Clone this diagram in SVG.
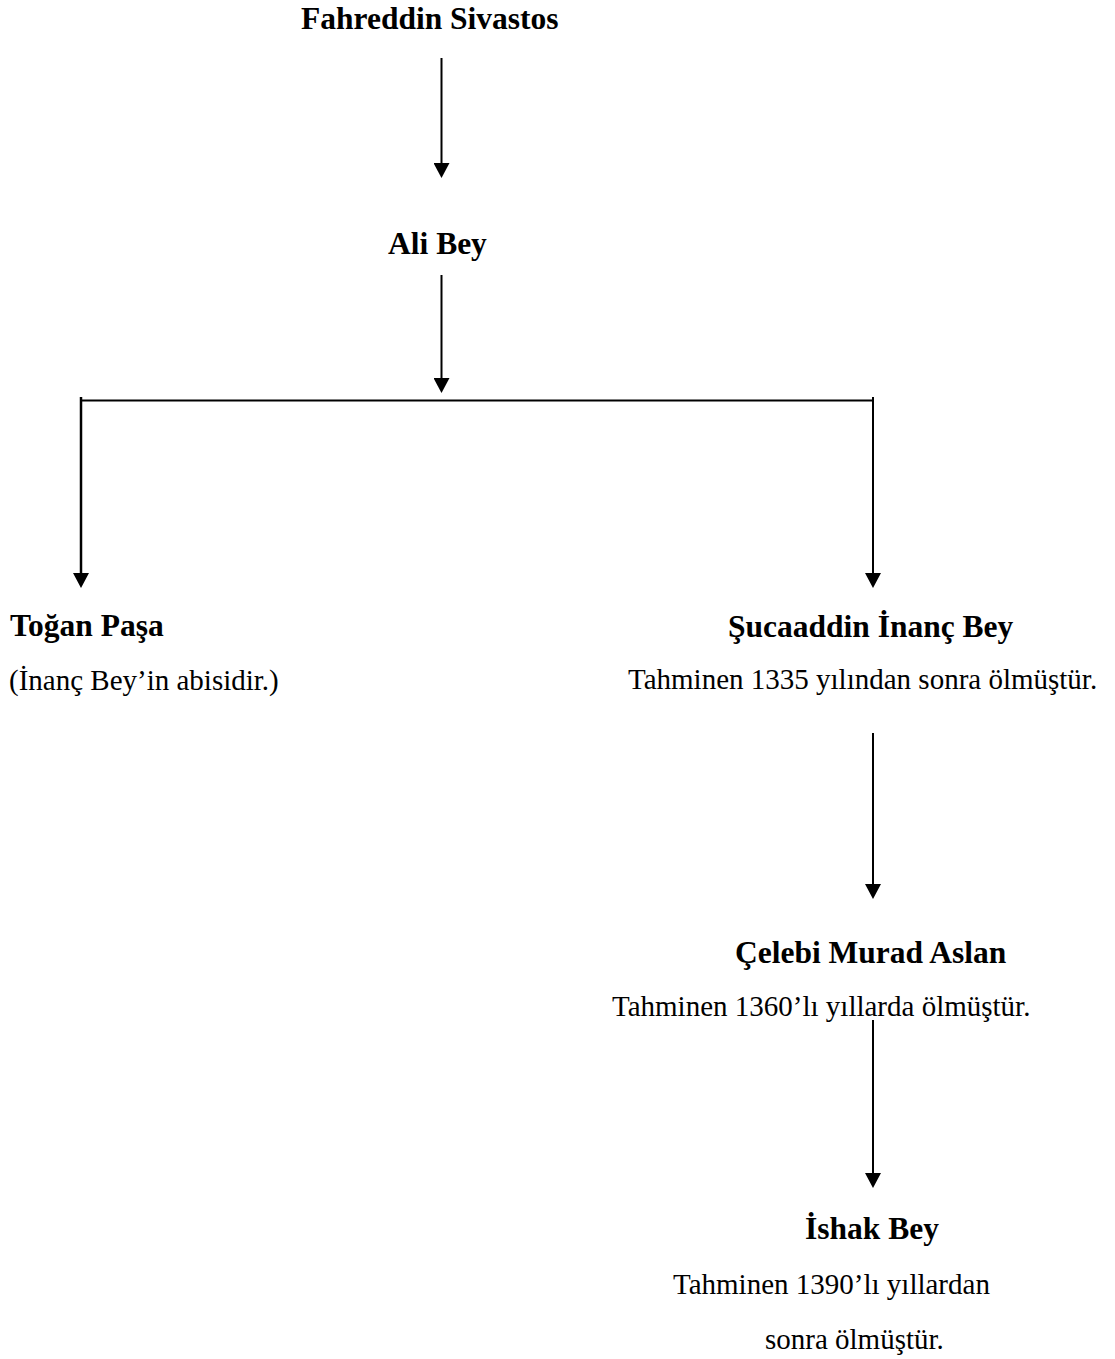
<svg xmlns="http://www.w3.org/2000/svg" width="1115" height="1359" viewBox="0 0 1115 1359">
<defs>
<style>
.b{font-family:"Liberation Serif","Times New Roman",serif;font-weight:bold;font-size:31.5px;fill:#000}
.r{font-family:"Liberation Serif","Times New Roman",serif;font-size:29px;fill:#000}
.c{stroke:#000;stroke-width:2;fill:none}
.a{marker-end:url(#ah)}
</style>
<marker id="ah" markerUnits="userSpaceOnUse" markerWidth="16" markerHeight="16" refX="5" refY="8" orient="auto">
<path d="M0,0 L15,8 L0,16 z" fill="#000"/>
</marker>
</defs>
<rect width="1115" height="1359" fill="#fff"/>
<g id="connectors">
<line class="c a" x1="441.5" y1="58" x2="441.5" y2="168"/>
<line class="c a" x1="441.5" y1="275" x2="441.5" y2="383"/>
<line class="c" x1="80" y1="400.5" x2="874" y2="400.5"/>
<line class="c a" x1="81" y1="397" x2="81" y2="578" style="stroke-width:2.5"/>
<line class="c a" x1="873" y1="397" x2="873" y2="578"/>
<line class="c a" x1="873" y1="733" x2="873" y2="889"/>
<line class="c a" x1="873" y1="1020" x2="873" y2="1178"/>
</g>
<g id="fahreddin"><text class="b" x="301" y="29">Fahreddin Sivastos</text></g>
<g id="ali"><text class="b" x="388" y="254">Ali Bey</text></g>
<g id="togan">
<text class="b" x="10" y="636">Toğan Paşa</text>
<text class="r" x="9" y="690">(İnanç Bey’in abisidir.)</text>
</g>
<g id="sucaaddin">
<text class="b" x="728" y="637">Şucaaddin İnanç Bey</text>
<text class="r" x="628" y="689">Tahminen 1335 yılından sonra ölmüştür.</text>
</g>
<g id="celebi">
<text class="b" x="735" y="963">Çelebi Murad Aslan</text>
<text class="r" x="612" y="1016">Tahminen 1360’lı yıllarda ölmüştür.</text>
</g>
<g id="ishak">
<text class="b" x="805" y="1239">İshak Bey</text>
<text class="r" x="673" y="1294">Tahminen 1390’lı yıllardan</text>
<text class="r" x="765" y="1349">sonra ölmüştür.</text>
</g>
</svg>
